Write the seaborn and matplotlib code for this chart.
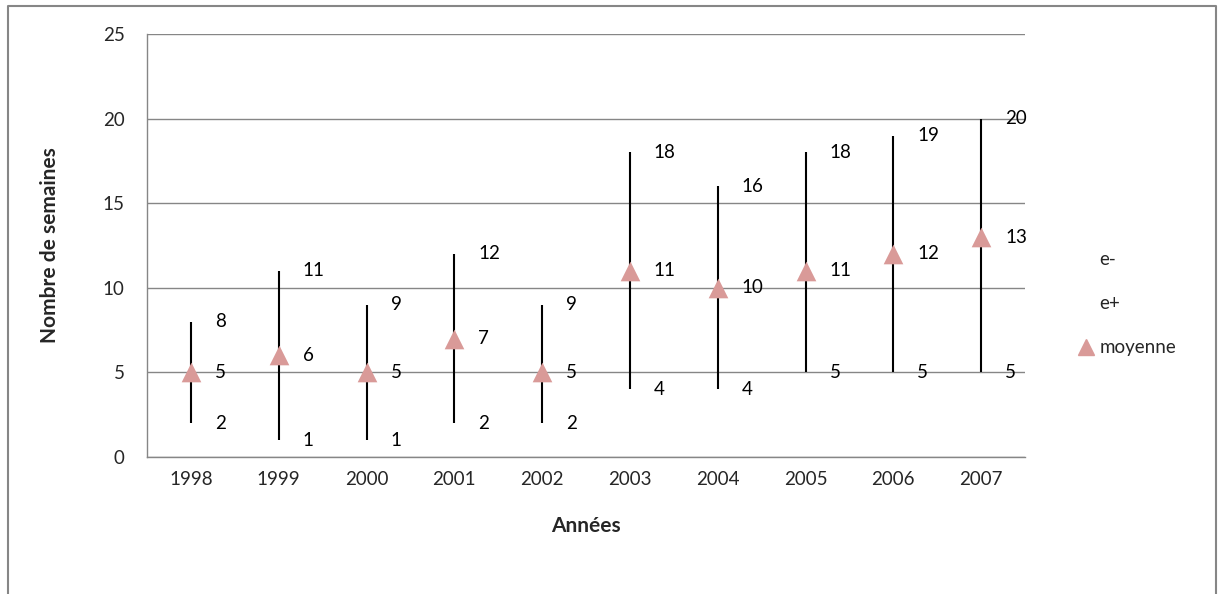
import numpy as np
import matplotlib.pyplot as plt
import seaborn as sns
import pandas as pd
from matplotlib.lines import Line2D

# data
years = ['1998', '1999', '2000', '2001', '2002', '2003', '2004', '2005', '2006', '2007']
e_minus = [2, 1, 1, 2, 2, 4, 4, 5, 5, 5]
e_plus = [8, 11, 9, 12, 9, 18, 16, 18, 19, 20]
moyenne = [5, 6, 5, 7, 5, 11, 10, 11, 12, 13]

df = pd.DataFrame({'annee': years, 'pos': range(len(years)),
                   'e-': e_minus, 'e+': e_plus, 'moyenne': moyenne})

sns.set_style('white')
plt.rcParams['font.family'] = ['Lato', 'DejaVu Sans']

pink = '#D99A98'
gray = '#868686'
fs = 13.5

fig = plt.figure(figsize=(12.18, 5.94), dpi=100)
ax = fig.add_axes([147 / 1218, 1 - 457 / 594, (1025 - 147) / 1218, (457 - 34) / 594])

# high-low lines
ax.vlines(df['pos'], df['e-'], df['e+'], color='black', linewidth=1.5, zorder=2)

# mean markers
sns.scatterplot(data=df, x='pos', y='moyenne', marker='^', s=200, color=pink,
                edgecolor=pink, linewidth=0, zorder=3, ax=ax, legend=False)

# value labels to the right of each line
for i, row in df.iterrows():
    for col in ['e-', 'e+', 'moyenne']:
        ax.annotate(str(row[col]), (row['pos'], row[col]), xytext=(24, 0),
                    textcoords='offset pixels',
                    va='center', ha='left', fontsize=fs, color='black')

ax.set_xlim(-0.5, len(years) - 0.5)
ax.set_ylim(0, 25)
ax.set_yticks(range(0, 26, 5))
ax.set_xticks(range(len(years)))
ax.set_xticklabels(years)
ax.set_xticks(np.arange(-0.5, len(years), 1), minor=True)
ax.tick_params(axis='x', which='major', length=0, pad=10, labelsize=fs)
ax.tick_params(axis='x', which='minor', length=6, width=1, color=gray, direction='out')
ax.tick_params(axis='y', length=6, width=1, color=gray, direction='out', labelsize=fs, pad=10)
ax.yaxis.grid(True, color=gray, linewidth=1)
ax.set_axisbelow(True)

for side in ['top', 'right']:
    ax.spines[side].set_visible(False)
for side in ['left', 'bottom']:
    ax.spines[side].set_color(gray)
    ax.spines[side].set_linewidth(1)

ax.set_xlabel('Années', fontsize=15, fontweight='bold', labelpad=20)
ax.set_ylabel('Nombre de semaines', fontsize=15, fontweight='bold', labelpad=31)

# legend
handles = [Line2D([], [], linestyle='none'),
           Line2D([], [], linestyle='none'),
           Line2D([], [], linestyle='none', marker='^', markersize=11,
                  markerfacecolor=pink, markeredgecolor=pink)]
fig.legend(handles, ['e-', 'e+', 'moyenne'], loc='upper left',
           bbox_to_anchor=(1062 / 1218, 1 - 234 / 594), frameon=False,
           fontsize=fs, handlelength=0.8, handletextpad=0.3, labelspacing=1.45)

# outer chart frame
fig.add_artist(Line2D([8 / 1218, 8 / 1218, 1216 / 1218, 1216 / 1218],
                      [0, 1 - 6 / 594, 1 - 6 / 594, 0],
                      transform=fig.transFigure, color=gray, linewidth=1.5))

fig.savefig('out.png', dpi=100)
